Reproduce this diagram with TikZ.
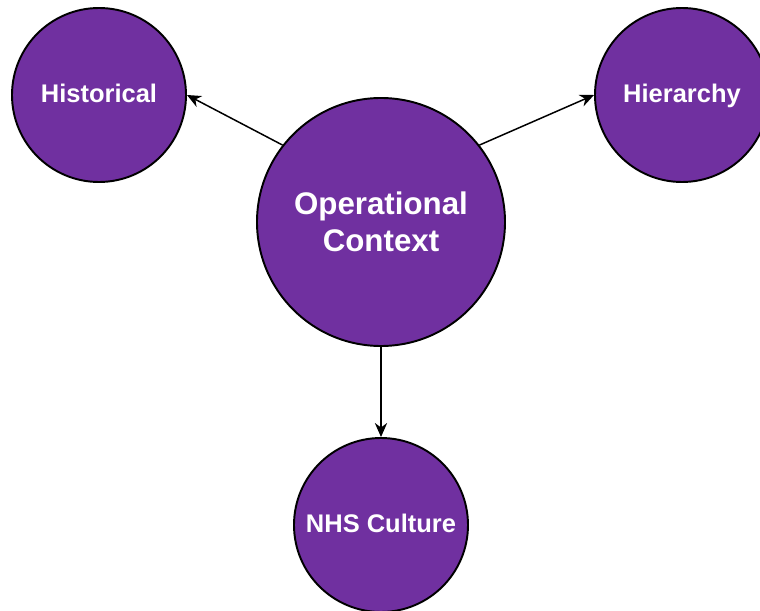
\documentclass[tikz,border=0pt]{standalone}
\usepackage{fontspec}
\setmainfont{Liberation Sans}
\usetikzlibrary{arrows.meta}
\definecolor{ctxpurple}{RGB}{112,48,160}

\begin{document}
\begin{tikzpicture}[
   factor/.style={circle,draw=black,fill=ctxpurple,line width=1.1pt,text=white,
                  font=\bfseries\fontsize{14.5}{17}\selectfont,minimum size=3.48cm,inner sep=0pt,
                  text height=0.9em,text depth=0.08em},
   core/.style={factor,minimum size=4.96cm,align=center,text height=,text depth=,
                font=\bfseries\fontsize{17.8}{21.2}\selectfont},
   link/.style={draw=black,line width=0.85pt,-{Stealth[length=8pt,width=7pt]}}
]
  \clip (0,0) rectangle (15.2,12.2);
  \node[core]   (ctx)  at (7.62,7.76) {Operational\\Context};
  \node[factor] (hist) at (1.98,10.30) {Historical};
  \node[factor] (hier) at (13.64,10.30) {Hierarchy};
  \node[factor] (nhs)  at (7.62,1.70) {NHS Culture};
  \draw[link] (ctx.142) -- (hist.east);
  \draw[link] (ctx.38) -- (hier.west);
  \draw[link] (ctx.south) -- (nhs.north);
\end{tikzpicture}
\end{document}
